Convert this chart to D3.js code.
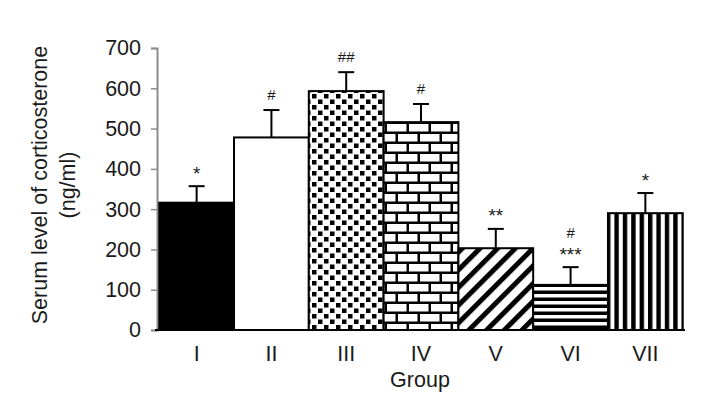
<!DOCTYPE html>
<html>
<head>
<meta charset="utf-8">
<script src="https://cdn.jsdelivr.net/npm/d3@7"></script>
<style>
  body { margin: 0; background: white; }
  text { font-family: "Liberation Sans", Arial, sans-serif; }
</style>
</head>
<body>
<div id="chart"></div>
<script>
const groups = ["I", "II", "III", "IV", "V", "VI", "VII"];
const means = [316, 478, 593, 516, 203, 112, 290];
const errors = [41, 68, 47, 45, 48, 44, 50];
const marks = [["*"], ["#"], ["##"], ["#"], ["**"], ["#", "***"], ["*"]];
const fills = ["solid", "white", "dots", "bricks", "diag", "hstripe", "vstripe"];
const yTicks = [0, 100, 200, 300, 400, 500, 600, 700];

const width = 721, height = 416;
const fontSize = 21.5;

const svg = d3.select("#chart")
  .append("svg")
  .attr("width", width)
  .attr("height", height);

// hatch patterns
const defs = svg.append("defs");

const dots = defs.append("pattern")
  .attr("id", "dots").attr("patternUnits", "userSpaceOnUse")
  .attr("width", 12).attr("height", 11).attr("x", 311).attr("y", 93);
dots.append("rect").attr("width", 12).attr("height", 11).attr("fill", "white");
dots.append("rect").attr("x", 1).attr("y", 1).attr("width", 4.5).attr("height", 4.5).attr("fill", "black");
dots.append("rect").attr("x", 7).attr("y", 6.5).attr("width", 4.5).attr("height", 4.5).attr("fill", "black");

const bricks = defs.append("pattern")
  .attr("id", "bricks").attr("patternUnits", "userSpaceOnUse")
  .attr("width", 22).attr("height", 20).attr("x", 386).attr("y", 123);
bricks.append("rect").attr("width", 22).attr("height", 20).attr("fill", "black");
bricks.append("rect").attr("x", 1).attr("y", 1).attr("width", 19.5).attr("height", 7.5).attr("fill", "white");
bricks.append("rect").attr("x", -10).attr("y", 11).attr("width", 19.5).attr("height", 7.5).attr("fill", "white");
bricks.append("rect").attr("x", 12).attr("y", 11).attr("width", 19.5).attr("height", 7.5).attr("fill", "white");

const diag = defs.append("pattern")
  .attr("id", "diag").attr("patternUnits", "userSpaceOnUse")
  .attr("width", 12.5).attr("height", 12.5)
  .attr("patternTransform", "rotate(45)");
diag.append("rect").attr("width", 12.5).attr("height", 12.5).attr("fill", "white");
diag.append("rect").attr("width", 5).attr("height", 12.5).attr("fill", "black");

const hs = defs.append("pattern")
  .attr("id", "hstripe").attr("patternUnits", "userSpaceOnUse")
  .attr("width", 8).attr("height", 7).attr("y", 287);
hs.append("rect").attr("width", 8).attr("height", 7).attr("fill", "white");
hs.append("rect").attr("y", 3.5).attr("width", 8).attr("height", 3.5).attr("fill", "black");

const vs = defs.append("pattern")
  .attr("id", "vstripe").attr("patternUnits", "userSpaceOnUse")
  .attr("width", 8.4).attr("height", 8).attr("x", 606);
vs.append("rect").attr("width", 8.4).attr("height", 8).attr("fill", "white");
vs.append("rect").attr("x", 0).attr("width", 4.4).attr("height", 8).attr("fill", "black");

const fillFor = (f) => f === "solid" ? "black" : f === "white" ? "white" : `url(#${f})`;

const x = d3.scaleBand()
  .domain(groups)
  .range([157, 685])
  .paddingInner(0)
  .paddingOuter(0.03);

const y = d3.scaleLinear()
  .domain([0, 700])
  .range([330, 48]);

// y axis
const yAxis = svg.append("g")
  .attr("transform", "translate(157,0)")
  .call(d3.axisLeft(y).tickValues(yTicks).tickSize(6).tickSizeOuter(6).tickPadding(10));
yAxis.select(".domain").attr("stroke", "#8c8c8c").attr("stroke-width", 2);
yAxis.selectAll(".tick line").attr("stroke", "#8c8c8c").attr("stroke-width", 1.5);
yAxis.selectAll(".tick text")
  .attr("font-size", fontSize)
  .attr("fill", "#1a1a1a")
  .style("font-family", "Liberation Sans, Arial, sans-serif");

// bars
svg.selectAll(".bar")
  .data(groups)
  .enter()
  .append("rect")
  .attr("class", "bar")
  .attr("x", (d) => x(d))
  .attr("y", (d, i) => y(means[i]))
  .attr("width", x.bandwidth())
  .attr("height", (d, i) => y(0) - y(means[i]))
  .attr("fill", (d, i) => fillFor(fills[i]))
  .attr("stroke", "black")
  .attr("stroke-width", 2);

// error bars + significance marks
groups.forEach((g, i) => {
  const cx = x(g) + x.bandwidth() / 2;
  const top = y(means[i] + errors[i]);
  svg.append("line")
    .attr("x1", cx).attr("x2", cx)
    .attr("y1", y(means[i])).attr("y2", top)
    .attr("stroke", "black").attr("stroke-width", 2);
  svg.append("line")
    .attr("x1", cx - 8).attr("x2", cx + 8)
    .attr("y1", top).attr("y2", top)
    .attr("stroke", "black").attr("stroke-width", 2);

  let base = top;
  marks[i].slice().reverse().forEach((m) => {
    const star = m.includes("*");
    const yPos = base - (star ? 6.5 : 10);
    svg.append("text")
      .attr("x", cx)
      .attr("y", yPos)
      .attr("text-anchor", "middle")
      .attr("font-size", star ? 19 : 15)
      .attr("fill", "#1a1a1a")
      .text(m);
    base = yPos - 13;
  });
});

// x axis line
svg.append("line")
  .attr("x1", 155).attr("x2", 685)
  .attr("y1", 330).attr("y2", 330)
  .attr("stroke", "black").attr("stroke-width", 2);

// category labels
svg.selectAll(".cat")
  .data(groups)
  .enter()
  .append("text")
  .attr("x", (d) => x(d) + x.bandwidth() / 2)
  .attr("y", 361)
  .attr("text-anchor", "middle")
  .attr("font-size", fontSize)
  .attr("fill", "#1a1a1a")
  .text((d) => d);

svg.append("text")
  .attr("x", 420)
  .attr("y", 387)
  .attr("text-anchor", "middle")
  .attr("font-size", fontSize)
  .attr("fill", "#1a1a1a")
  .text("Group");

// y title, two lines
const yTitle = svg.append("text")
  .attr("transform", "translate(0,185) rotate(-90)")
  .attr("text-anchor", "middle")
  .attr("font-size", fontSize)
  .attr("fill", "#1a1a1a");
yTitle.append("tspan").attr("x", 0).attr("y", 47).text("Serum level of corticosterone");
yTitle.append("tspan").attr("x", 0).attr("y", 75).text("(ng/ml)");
</script>
</body>
</html>
